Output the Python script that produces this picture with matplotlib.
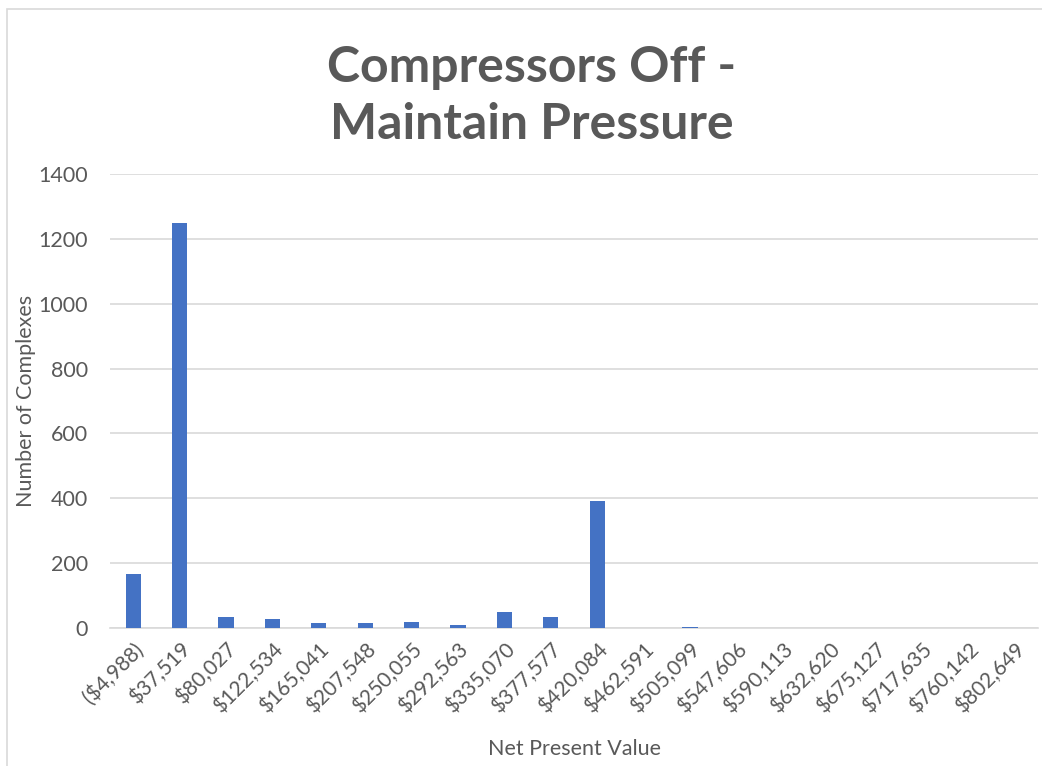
import matplotlib
matplotlib.use("Agg")
import matplotlib.pyplot as plt
from matplotlib.patches import Rectangle

plt.rcParams['font.family'] = ['Lato', 'DejaVu Sans']

categories = ["($4,988)", "$37,519", "$80,027", "$122,534", "$165,041", "$207,548",
              "$250,055", "$292,563", "$335,070", "$377,577", "$420,084", "$462,591",
              "$505,099", "$547,606", "$590,113", "$632,620", "$675,127", "$717,635",
              "$760,142", "$802,649"]
counts = [165, 1248, 33, 27, 16, 16, 19, 8, 48, 33, 393, 0, 3, 0, 0, 0, 0, 0, 0, 0]
yticks = [0, 200, 400, 600, 800, 1000, 1200, 1400]

W, H = 1042, 766
fig = plt.figure(figsize=(W / 100, H / 100), dpi=100)
fig.patch.set_facecolor('white')

# chart frame
fig.patches.append(Rectangle((7 / W, -0.05), 1.1, 1 - 9 / H + 0.05, transform=fig.transFigure,
                             fill=False, edgecolor='#d9d9d9', linewidth=1.2))

ax = fig.add_axes([110 / W, 1 - 628 / H, (1038 - 110) / W, (628 - 174) / H])
x = list(range(len(categories)))
ax.bar(x, counts, width=0.33, color='#4472c4', zorder=3)
ax.set_xlim(-0.5, len(categories) - 0.5)
ax.set_ylim(0, 1400)
ax.set_yticks(yticks)
ax.set_yticklabels([str(v) for v in yticks], fontsize=15.5, color='#595959')
ax.set_xticks(x)
ax.set_xticklabels(categories, rotation=45, ha='right', va='top', rotation_mode='anchor',
                   fontsize=15, color='#595959')
ax.tick_params(axis='both', length=0)
ax.tick_params(axis='y', pad=16)
ax.tick_params(axis='x', pad=8)
ax.grid(axis='y', color='#d9d9d9', linewidth=1.2, zorder=0)
for s in ['left', 'right', 'top']:
    ax.spines[s].set_visible(False)
ax.spines['bottom'].set_color('#d9d9d9')
ax.spines['bottom'].set_linewidth(1.2)

ax.set_ylabel("Number of Complexes", fontsize=15.5, color='#595959')
ax.yaxis.set_label_coords(-(110 - 36) / (1038 - 110), 0.5)
fig.text(575 / W, 1 - 749 / H, "Net Present Value", ha='center', va='center',
         fontsize=15.5, color='#595959')

fig.text(532 / W, 1 - 96 / H, "Compressors Off -\nMaintain Pressure", ha='center', va='center',
         fontsize=36, fontweight='bold', color='#595959', linespacing=1.3)

fig.savefig("out.png", dpi=100)
